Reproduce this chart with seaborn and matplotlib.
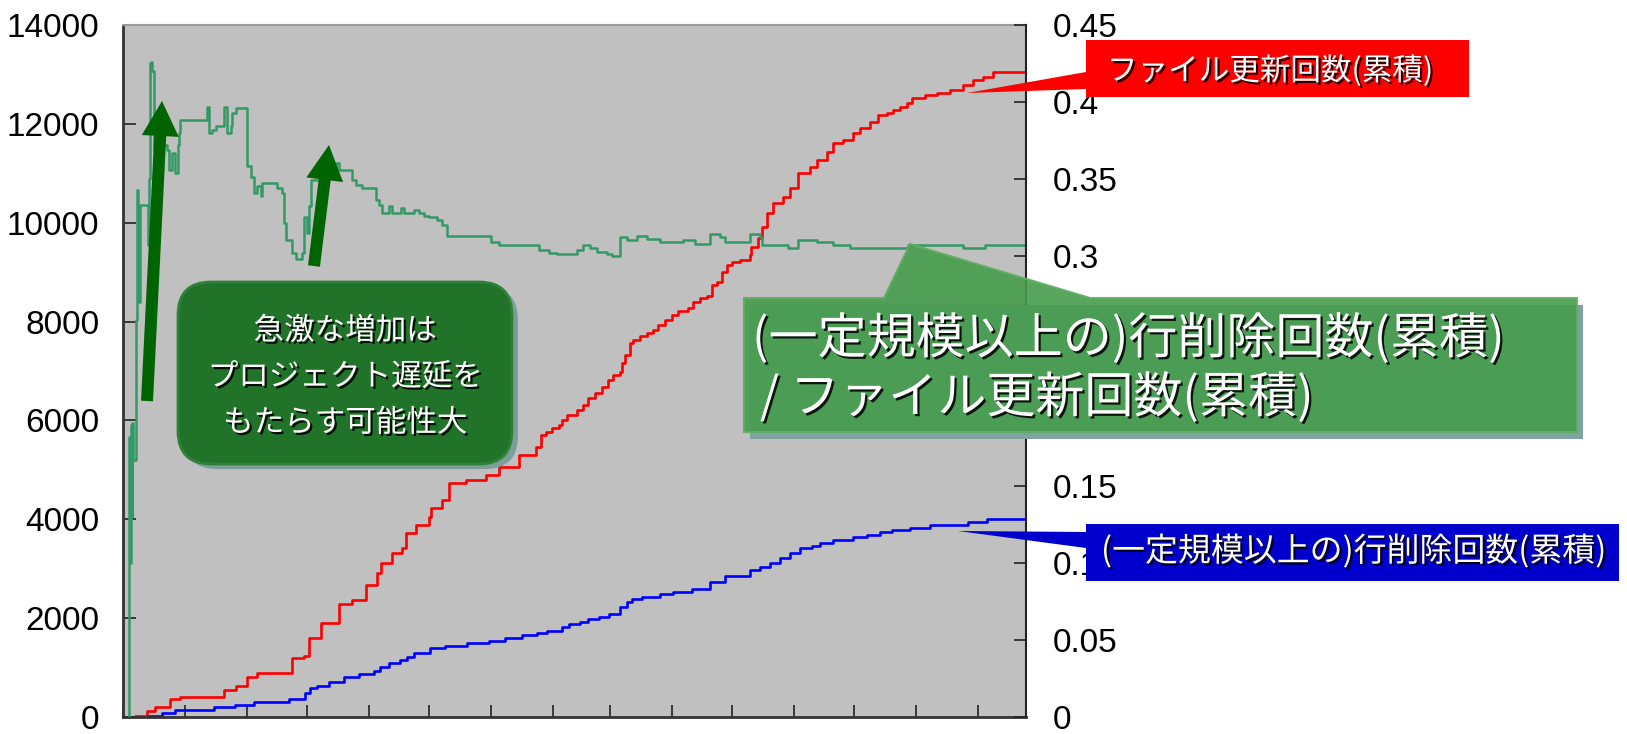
import numpy as np
import pandas as pd
import seaborn as sns
import matplotlib
matplotlib.use("Agg")
import matplotlib.pyplot as plt
import matplotlib.dates as mdates
import matplotlib.patheffects as pe
from matplotlib.patches import Polygon, Rectangle, FancyBboxPatch
from matplotlib.transforms import IdentityTransform

# ---- data: days since project start, cumulative counts ----
START = "2006-07-01"
END_DAY = 451

file_update_days = [6, 12, 16, 23.5, 28.5, 50.5, 56.5, 62, 67, 84.5, 90.5, 93, 99, 108, 114.5,
                    121.5, 127, 129, 134.5, 139.5, 141.5, 146.5, 153, 154, 159.5, 163, 171.5,
                    181.5, 188, 198, 206.5, 209, 211.5, 214.5, 218, 219.5, 222, 226.5, 229.5,
                    232, 235.5, 239, 242, 244.5, 248, 249, 250.5, 253, 254.5, 258, 261.5, 264.5,
                    267, 270.5, 274, 277, 282, 284.5, 288, 291.5, 294, 296.5, 299, 301.5, 304,
                    308, 313, 313.5, 317, 319, 321.5, 324.5, 329.5, 333, 337, 343, 346.5, 351.5,
                    354.5, 359.5, 364.5, 368, 373, 377, 381.5, 384.5, 388, 391.5, 394, 400.5,
                    406.5, 413, 419.5, 424.5, 429.5, 434.5, 451]
file_update_counts = [30, 130, 200, 360, 404, 546, 620, 800, 890, 1200, 1230, 1600, 1900, 2280, 2370,
                      2670, 2910, 3110, 3320, 3420, 3720, 3880, 4050, 4230, 4390, 4730, 4790,
                      4890, 5050, 5300, 5460, 5700, 5770, 5850, 5910, 6010, 6110, 6210, 6310,
                      6450, 6550, 6680, 6820, 6920, 6980, 7160, 7320, 7570, 7630, 7710, 7770, 7830,
                      7930, 8030, 8130, 8220, 8270, 8400, 8480, 8520, 8740, 8810, 9010, 9140, 9200,
                      9250, 9350, 9510, 9690, 9910, 10200, 10400, 10520, 10700, 11000, 11130, 11270, 11430,
                      11610, 11670, 11810, 11910, 12040, 12180, 12220, 12280, 12340, 12420, 12520, 12590,
                      12620, 12680, 12790, 12880, 12950, 13050, 13050]

line_delete_days = [13, 19.5, 26, 45.5, 56, 65.5, 83, 91, 93.5, 97, 103, 110.5, 118, 125.5, 128.5,
                    133, 138.5, 142, 145.5, 153.5, 161, 172, 183, 191, 199.5, 207, 212, 219.5,
                    223, 228, 232, 237.5, 242.5, 248, 251.5, 254, 259, 268, 274.5, 284, 293,
                    300.5, 313, 318, 323, 328, 333, 338, 344, 348, 354.5, 364.5, 371.5, 378,
                    384, 393, 403, 422, 431.5, 451]
line_delete_counts = [20, 80, 140, 200, 240, 300, 360, 490, 590, 630, 710, 810, 870, 930, 1010,
                      1090, 1150, 1210, 1290, 1400, 1440, 1500, 1540, 1600, 1660, 1700, 1740, 1820,
                      1880, 1920, 1980, 2020, 2080, 2220, 2330, 2390, 2430, 2490, 2530, 2590, 2730,
                      2850, 2970, 3030, 3110, 3220, 3320, 3420, 3460, 3520, 3580, 3640, 3680, 3740,
                      3780, 3820, 3880, 3940, 4000, 4000]

ratio_days = [3.0, 3.2, 3.6, 4.0, 4.4, 4.6, 4.8, 6.6, 7.0, 7.6, 8.1, 8.4, 12.3, 12.75, 13.25, 14.0, 14.5,
              15.25, 16.0, 17.0, 20.0, 22.0, 23.0, 24.5, 26.0, 27.25, 28.0, 28.5, 42.0, 43.0,
              44.5, 46.5, 50.5, 52.0, 54.0, 54.5, 56.5, 62.0, 64.0, 65.5, 67.0, 69.0, 69.5,
              77.0, 79.5, 80.5, 81.5, 84.5, 86.5, 89.5, 90.5, 92.0, 93.0, 94.0, 100.5, 106.5,
              108.0, 114.5, 116.5, 119.5, 126.5, 128.0, 129.5, 133.0, 134.5, 139.0, 140.5,
              145.5, 148.0, 150.5, 153.0, 157.0, 159.5, 162.0, 184.0, 188.0, 208.0, 213.0,
              217.0, 226.5, 229.5, 233.0, 236.5, 241.5, 244.0, 248.0, 251.5, 256.5, 261.5,
              268.0, 279.5, 285.5, 293.0, 298.0, 300.5, 313.0, 318.0, 319.0, 332.0, 337.0,
              346.5, 354.5, 363.0, 392.0, 419.5, 430.5, 451]
ratio_vals = [0.0, 0.182, 0.10, 0.19, 0.13, 0.191, 0.167, 0.258, 0.343, 0.289, 0.27, 0.333, 0.307,
              0.350, 0.425, 0.426, 0.42,
              0.369, 0.39, 0.385, 0.372, 0.369, 0.356, 0.367, 0.354, 0.372, 0.38, 0.388, 0.397, 0.380,
              0.382, 0.384, 0.397, 0.380, 0.384, 0.393, 0.396, 0.358, 0.351, 0.341, 0.345, 0.339, 0.347,
              0.344, 0.341, 0.321, 0.310, 0.302, 0.298, 0.302, 0.325, 0.315, 0.332, 0.349, 0.356, 0.360,
              0.356, 0.349, 0.346, 0.344, 0.336, 0.333, 0.328, 0.332, 0.328, 0.331, 0.328,
              0.330, 0.328, 0.326, 0.325, 0.323, 0.320, 0.313, 0.309, 0.307, 0.3035, 0.302,
              0.301, 0.3035, 0.307, 0.305, 0.3025, 0.301, 0.2997, 0.3123, 0.310, 0.3127, 0.311,
              0.309, 0.3105, 0.3075, 0.314, 0.312, 0.309, 0.314, 0.312, 0.307, 0.305, 0.310,
              0.309, 0.307, 0.305, 0.307, 0.305, 0.307, 0.307]

left_ticks = [0, 2000, 4000, 6000, 8000, 10000, 12000, 14000]
left_labels = ["0", "2000", "4000", "6000", "8000", "10000", "12000", "14000"]
right_ticks = [0, 0.05, 0.1, 0.15, 0.2, 0.25, 0.3, 0.35, 0.4, 0.45]
right_labels = ["0", "0.05", "0.1", "0.15", "0.2", "0.25", "0.3", "0.35", "0.4", "0.45"]

label_files = "ファイル更新回数(累積)"
label_deletes = "(一定規模以上の)行削除回数(累積)"
label_ratio = ["(一定規模以上の)行削除回数(累積)", "/ ファイル更新回数(累積)"]
note_lines = ["急激な増加は", "プロジェクト遅延を", "もたらす可能性大"]

# ---- styling ----
sns.set_theme(style="white")
plt.rcParams["font.family"] = ["Noto Sans CJK JP", "DejaVu Sans"]
NUM_FONT = ["Liberation Sans", "DejaVu Sans"]
CJK_FONT = ["Noto Sans CJK JP", "DejaVu Sans"]

W, H = 1627, 734
fig = plt.figure(figsize=(W / 100, H / 100), dpi=100, facecolor="white")
ax = fig.add_axes([123 / W, 1 - 717 / H, (1026 - 123) / W, (717 - 25) / H])
ax.set_facecolor("#c0c0c0")

start = pd.Timestamp(START)
to_dates = lambda d: start + pd.to_timedelta(np.asarray(d, dtype=float), unit="D")

df_files = pd.DataFrame({"date": to_dates(file_update_days), "count": file_update_counts})
df_dels = pd.DataFrame({"date": to_dates(line_delete_days), "count": line_delete_counts})
df_ratio = pd.DataFrame({"date": to_dates(ratio_days), "ratio": ratio_vals})

sns.lineplot(data=df_files, x="date", y="count", ax=ax, color="#ff0000", linewidth=1.9,
             drawstyle="steps-post", estimator=None, sort=False, legend=False)
sns.lineplot(data=df_dels, x="date", y="count", ax=ax, color="#0000ff", linewidth=1.9,
             drawstyle="steps-post", estimator=None, sort=False, legend=False)

ax2 = ax.twinx()
sns.lineplot(data=df_ratio, x="date", y="ratio", ax=ax2, color="#339966", linewidth=1.8,
             drawstyle="steps-post", estimator=None, sort=False, legend=False)

ax.set_xlim(start, start + pd.Timedelta(days=END_DAY))
ax.set_ylim(0, 14000)
ax2.set_ylim(0, 0.45)
ax.set_xlabel("")
ax.set_ylabel("")
ax2.set_ylabel("")

ax.xaxis.set_major_locator(mdates.MonthLocator())
ax.xaxis.set_major_formatter(plt.NullFormatter())
ax.set_yticks(left_ticks)
ax.set_yticklabels(left_labels, fontfamily=NUM_FONT, fontsize=24)
ax2.set_yticks(right_ticks)
ax2.set_yticklabels(right_labels, fontfamily=NUM_FONT, fontsize=24)

ax.tick_params(axis="x", direction="in", length=9, width=1.2, color="#222222", bottom=True)
ax.tick_params(axis="y", direction="in", length=9, width=1.2, color="#222222", left=True,
               pad=17, labelcolor="black")
ax2.tick_params(axis="y", direction="in", length=9, width=1.2, color="#222222", right=True,
                pad=19, labelcolor="black")

for s in ("left", "bottom"):
    ax.spines[s].set_color("#333333")
    ax.spines[s].set_linewidth(2)
ax.spines["top"].set_color("#9a9a9a")
ax.spines["top"].set_linewidth(1.5)
ax.spines["right"].set_visible(False)
for s in ("left", "top", "bottom"):
    ax2.spines[s].set_visible(False)
ax2.spines["right"].set_color("#222222")
ax2.spines["right"].set_linewidth(1.5)

# ---- call-outs (pixel positions measured from the top-left corner) ----
ID = IdentityTransform()


def px(points):
    return [(x, H - y) for x, y in points]


shadow_fx = [pe.withSimplePatchShadow(offset=(1.6, -1.6), shadow_rgbFace="black", alpha=0.85)]


def put_text(x, y, s, size, ha="left"):
    fig.text(x / W, 1 - y / H, s, ha=ha, va="center", fontsize=size, color="white",
             fontfamily=CJK_FONT, path_effects=shadow_fx, zorder=20)


# red label
fig.add_artist(Polygon(px([(967, 93), (1086, 72), (1086, 89)]), closed=True,
                       transform=ID, fc="#ff0000", ec="none", zorder=10))
fig.add_artist(Rectangle((1086, H - 97), 383, 57, transform=ID, fc="#ff0000", ec="none", zorder=10))
put_text(1107, 71, label_files, 22)

# blue label
fig.add_artist(Polygon(px([(958, 531), (1086, 532), (1086, 548)]), closed=True,
                       transform=ID, fc="#0000cc", ec="none", zorder=10))
fig.add_artist(Rectangle((1086, H - 581), 533, 57, transform=ID, fc="#0000cc", ec="none", zorder=10))
put_text(1101, 551, label_deletes, 23.7)

# ratio call-out
fig.add_artist(Rectangle((750, H - 439), 833, 134, transform=ID, fc="#7fa39f", ec="none", zorder=9))
fig.add_artist(Polygon(px([(744, 298), (884, 298), (910, 244), (1090, 298), (1577, 298),
                           (1577, 432), (744, 432)]), closed=True, transform=ID,
                       fc="#469c4c", ec="#5fae63", lw=1.5, alpha=0.9, zorder=10))
put_text(752, 339, label_ratio[0], 35.3)
put_text(760, 398, label_ratio[1], 35.3)

# note box
fig.add_artist(FancyBboxPatch((184, H - 469), 334, 182, boxstyle="round,pad=0,rounding_size=33",
                              transform=ID, fc="#7a9e9a", ec="none", zorder=9))
fig.add_artist(FancyBboxPatch((178, H - 464), 334, 182, boxstyle="round,pad=0,rounding_size=33",
                              transform=ID, fc="#217329", ec="#2f8038", lw=2, zorder=10))
for (yy, line) in zip([331, 377, 423], note_lines):
    put_text(345, yy, line, 22, ha="center")


# arrows
def arrow(tail, tip, shaft_w=12, head_w=37, head_len=35, color="#006400"):
    t = np.array(tail, float)
    h = np.array(tip, float)
    d = h - t
    L = np.hypot(*d)
    u = d / L
    n = np.array([-u[1], u[0]])
    b = h - u * head_len
    pts = [t + n * shaft_w / 2, b + n * shaft_w / 2, b + n * head_w / 2, h,
           b - n * head_w / 2, b - n * shaft_w / 2, t - n * shaft_w / 2]
    fig.add_artist(Polygon(px([tuple(p) for p in pts]), closed=True, transform=ID,
                           fc=color, ec="none", zorder=11))


arrow((147, 401), (162, 101))
arrow((314, 266), (329, 145))

fig.savefig("out.png", dpi=100, facecolor="white")
